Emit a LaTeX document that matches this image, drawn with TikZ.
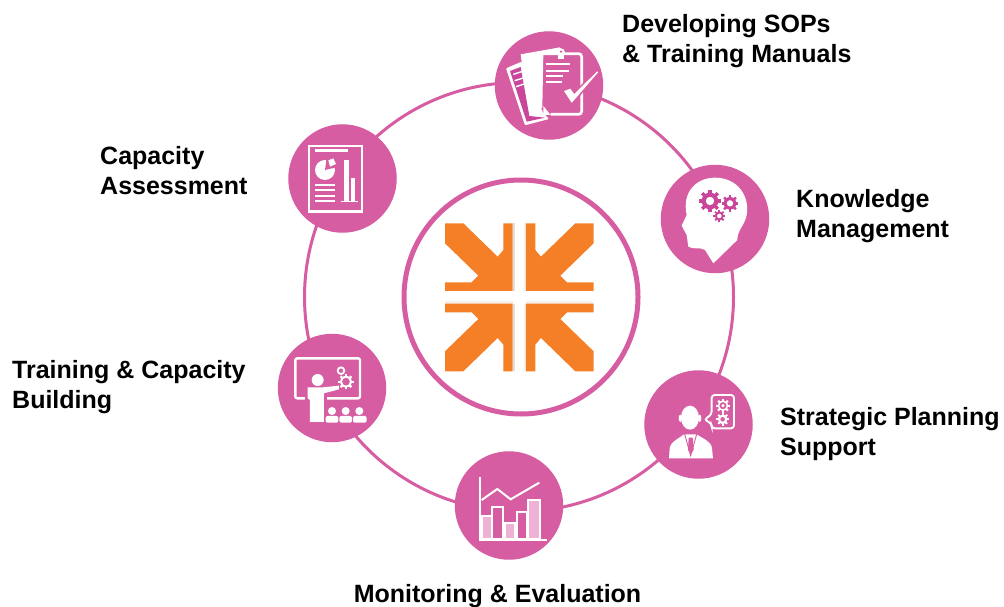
\documentclass[tikz,border=0pt]{standalone}
\usepackage{fontspec}
\setmainfont{Liberation Sans}
\definecolor{ballpink}{HTML}{D65DA1}
\definecolor{deeppink}{HTML}{C9469A}
\definecolor{palepink}{HTML}{EDB2D4}
\definecolor{logoorange}{HTML}{F47F26}
\definecolor{logofringe}{HTML}{E8DDD5}
\definecolor{logohaze}{HTML}{F6F1EE}
\tikzset{
  ringline/.style={circle,draw=ballpink,inner sep=0pt,outer sep=0pt},
  iconball/.style={circle,fill=ballpink,inner sep=0pt,outer sep=0pt,minimum size=108.5pt},
  caption/.style={anchor=west,align=left,inner sep=0pt,font=\fontsize{25}{30}\selectfont\bfseries},
  zoomed/.style={x=0.3333pt,y=-0.3333pt},
  whitebar/.style={white,line width=1.7pt},
  logopiece/.style={fill=logoorange,draw=none}
}
\newcommand{\gearmark}[6]{
  \foreach \a in {0,45,...,315}
    \draw[#4,line width=#3*0.1pt] (#1,#2) ++(\a:#3*0.6) -- ++(\a:#3*0.4);
  \fill[#4] (#1,#2) circle (#3*0.76);
  \fill[#5] (#1,#2) circle (#3*#6);
}
\begin{document}
\begin{tikzpicture}[x=1pt,y=-1pt]
\useasboundingbox (0,0) rectangle (1004,607);

\node[ringline,line width=3pt,minimum size=429pt] (bigring) at (519,297) {};
\node[ringline,line width=5pt,minimum size=234pt] (innerring) at (521,297) {};

\node[iconball] (sops) at (549,85.5) {};
\node[iconball] (capacity) at (342.5,178.5) {};
\node[iconball] (knowledge) at (715,219) {};
\node[iconball] (strategic) at (698.5,424.5) {};
\node[iconball] (monitoring) at (509,505.5) {};
\node[iconball] (training) at (332,388) {};

\node[caption] (sopstext) at (622,41) {Developing SOPs\\\& Training Manuals};
\node[caption] (capacitytext) at (100,170.5) {Capacity\\Assessment};
\node[caption] (knowledgetext) at (796,216) {Knowledge\\Management};
\node[caption] (strategictext) at (780,434.5) {Strategic Planning\\Support};
\node[caption] (trainingtext) at (12,387) {Training \& Capacity\\Building};
\node[caption,anchor=center] (monitoringtext) at (497.5,596) {Monitoring \& Evaluation};

\begin{scope}[shift={(430,205)},zoomed]
\fill[logofringe] (248,55) rectangle (255,258);
\fill[logofringe] (248,297) rectangle (255,497);
\fill[logohaze] (281,55) rectangle (288,258);
\fill[logohaze] (281,297) rectangle (288,497);
\fill[logohaze] (45,289) rectangle (248,297);
\fill[logohaze] (288,289) rectangle (489,297);
\foreach \sx/\sy in {1/1,-1/1,1/-1,-1/-1}
  \draw[logopiece,shift={(268,277)},xscale=\sx,yscale=\sy]
    (-223,-222) -- (-168,-222) -- (-65,-122) -- (-48,-142) -- (-48,-222) -- (-20,-222)
    -- (-20,-19) -- (-223,-19) -- (-223,-45) -- (-143,-45) -- (-123,-65) -- (-223,-162) -- cycle;
\end{scope}

\begin{scope}[shift={(480,20)},zoomed]
\fill[white,rounded corners=1pt] (78,145) -- (125,125) -- (190,280) -- (207,297) -- (135,316) -- cycle;
\fill[deeppink] (90,153) -- (122,141) -- (148,288) -- (195,293) -- (140,305) -- cycle;
\draw[white,line width=1.4pt] (100,163) -- (125,155) (104,182) -- (130,174) (108,200) -- (133,192);
\fill[white] (122,103) -- (240,82) -- (250,100) -- (190,104) -- (187,262) -- (165,285) -- (150,283) -- (135,200) -- cycle;
\fill[white] (190,258) -- (212,285) -- (190,285) -- cycle;
\draw[white,line width=2.7pt,rounded corners=3pt] (188,101) -- (305,101) -- (305,283) -- (212,283);
\fill[white] (243,97) circle (12);
\fill[ballpink] (243,95) circle (4);
\fill[white] (234,103) rectangle (252,118);
\draw[whitebar] (197,132) -- (270,132) (197,152) -- (266,152) (197,168) -- (250,168) (197,185) -- (245,185);
\fill[white,draw=ballpink,line width=1.5pt] (248,212) -- (272,203) -- (283,218) -- (352,150) -- (358,157) -- (275,253) -- cycle;
\end{scope}

\begin{scope}[shift={(275,115)},zoomed]
\draw[white,line width=2.3pt] (103,93) rectangle (262,290);
\fill[white] (100,286) rectangle (265,295);
\fill[white] (120,101) rectangle (218,111);
\fill[white] (150,165) circle (30);
\fill[ballpink] (150,165) -- (155,128) -- (192,128) -- (192,155) -- cycle;
\fill[white] (160,136) -- (175,130) -- (183,147) -- (165,155) -- cycle;
\draw[whitebar] (120,210) -- (180,210) (120,226) -- (180,226) (120,242) -- (180,242) (120,258) -- (180,258);
\fill[white] (208,135) rectangle (223,260);
\fill[white] (229,190) rectangle (240,260);
\draw[white,line width=0.8pt] (197,260) -- (250,260);
\end{scope}

\begin{scope}[shift={(650,155)},zoomed]
\fill[white] (190,325) -- (165,285) .. controls (150,275) and (130,285) .. (115,275)
  -- (110,240) -- (95,212) -- (110,180) .. controls (95,110) and (140,68) .. (195,68)
  .. controls (260,68) and (300,120) .. (290,180) .. controls (285,210) and (262,225) .. (262,255) -- cycle;
\gearmark{180}{138}{33}{deeppink}{white}{0.38}
\gearmark{240}{145}{25}{deeppink}{white}{0.38}
\gearmark{208}{183}{18}{deeppink}{white}{0.38}
\end{scope}

\begin{scope}[shift={(635,365)},zoomed]
\fill[white] (165,158) ellipse (27 and 36);
\fill[white] (136,160) ellipse (5 and 11);
\fill[white] (194,160) ellipse (5 and 11);
\fill[white] (102,280) -- (104,250) .. controls (108,228) and (130,222) .. (147,208)
  -- (185,208) .. controls (205,222) and (228,228) .. (231,250) -- (234,280) -- cycle;
\draw[ballpink,line width=0.9pt] (148,204) -- (167,272) -- (186,204);
\fill[ballpink] (161,218) -- (173,218) -- (176,255) -- (167,268) -- (159,255) -- cycle;
\draw[white,line width=1.9pt,rounded corners=3pt] (230,148) -- (230,90) -- (297,90) -- (297,190) -- (230,190) -- (230,176) -- (208,164) -- cycle;
\gearmark{264}{122}{21}{white}{ballpink}{0.5}
\fill[white] (264,122) circle (5);
\gearmark{263}{163}{19}{white}{ballpink}{0.36}
\end{scope}

\begin{scope}[shift={(445,445)},zoomed]
\fill[palepink] (110,213) rectangle (140,281);
\fill[palepink] (181,235) rectangle (210,281);
\fill[palepink] (250,165) rectangle (285,281);
\draw[white,line width=1.8pt] (110,213) rectangle (140,281);
\draw[white,line width=1.8pt] (142,185) rectangle (175,281);
\draw[white,line width=1.8pt] (181,235) rectangle (210,281);
\draw[white,line width=1.8pt] (215,201) rectangle (245,281);
\draw[white,line width=1.8pt] (250,165) rectangle (285,281);
\draw[white,line width=2pt] (106,97) -- (106,285) -- (305,285);
\draw[white,line width=2pt] (110,165) -- (157,132) -- (197,163) -- (283,113);
\end{scope}

\begin{scope}[shift={(270,330)},zoomed]
\draw[white,line width=2.4pt,rounded corners=2pt] (76,85) rectangle (270,205);
\fill[ballpink] (105,200) rectangle (170,212);
\fill[white] (143,150) circle (18);
\fill[white] (113,172) -- (160,172) -- (207,167) -- (207,178) -- (162,190) -- (162,276) -- (120,276) -- (120,210) -- (113,205) -- cycle;
\draw[white,line width=1.8pt] (213,122) circle (10);
\gearmark{228}{155}{23}{white}{ballpink}{0.5}
\fill[white] (186,243) circle (12);
\fill[white] (227,243) circle (12);
\fill[white] (268,243) circle (12);
\fill[white,rounded corners=2pt] (167,258) rectangle (205,278);
\fill[white,rounded corners=2pt] (208,258) rectangle (246,278);
\fill[white,rounded corners=2pt] (249,258) rectangle (290,278);
\end{scope}
\end{tikzpicture}
\end{document}
